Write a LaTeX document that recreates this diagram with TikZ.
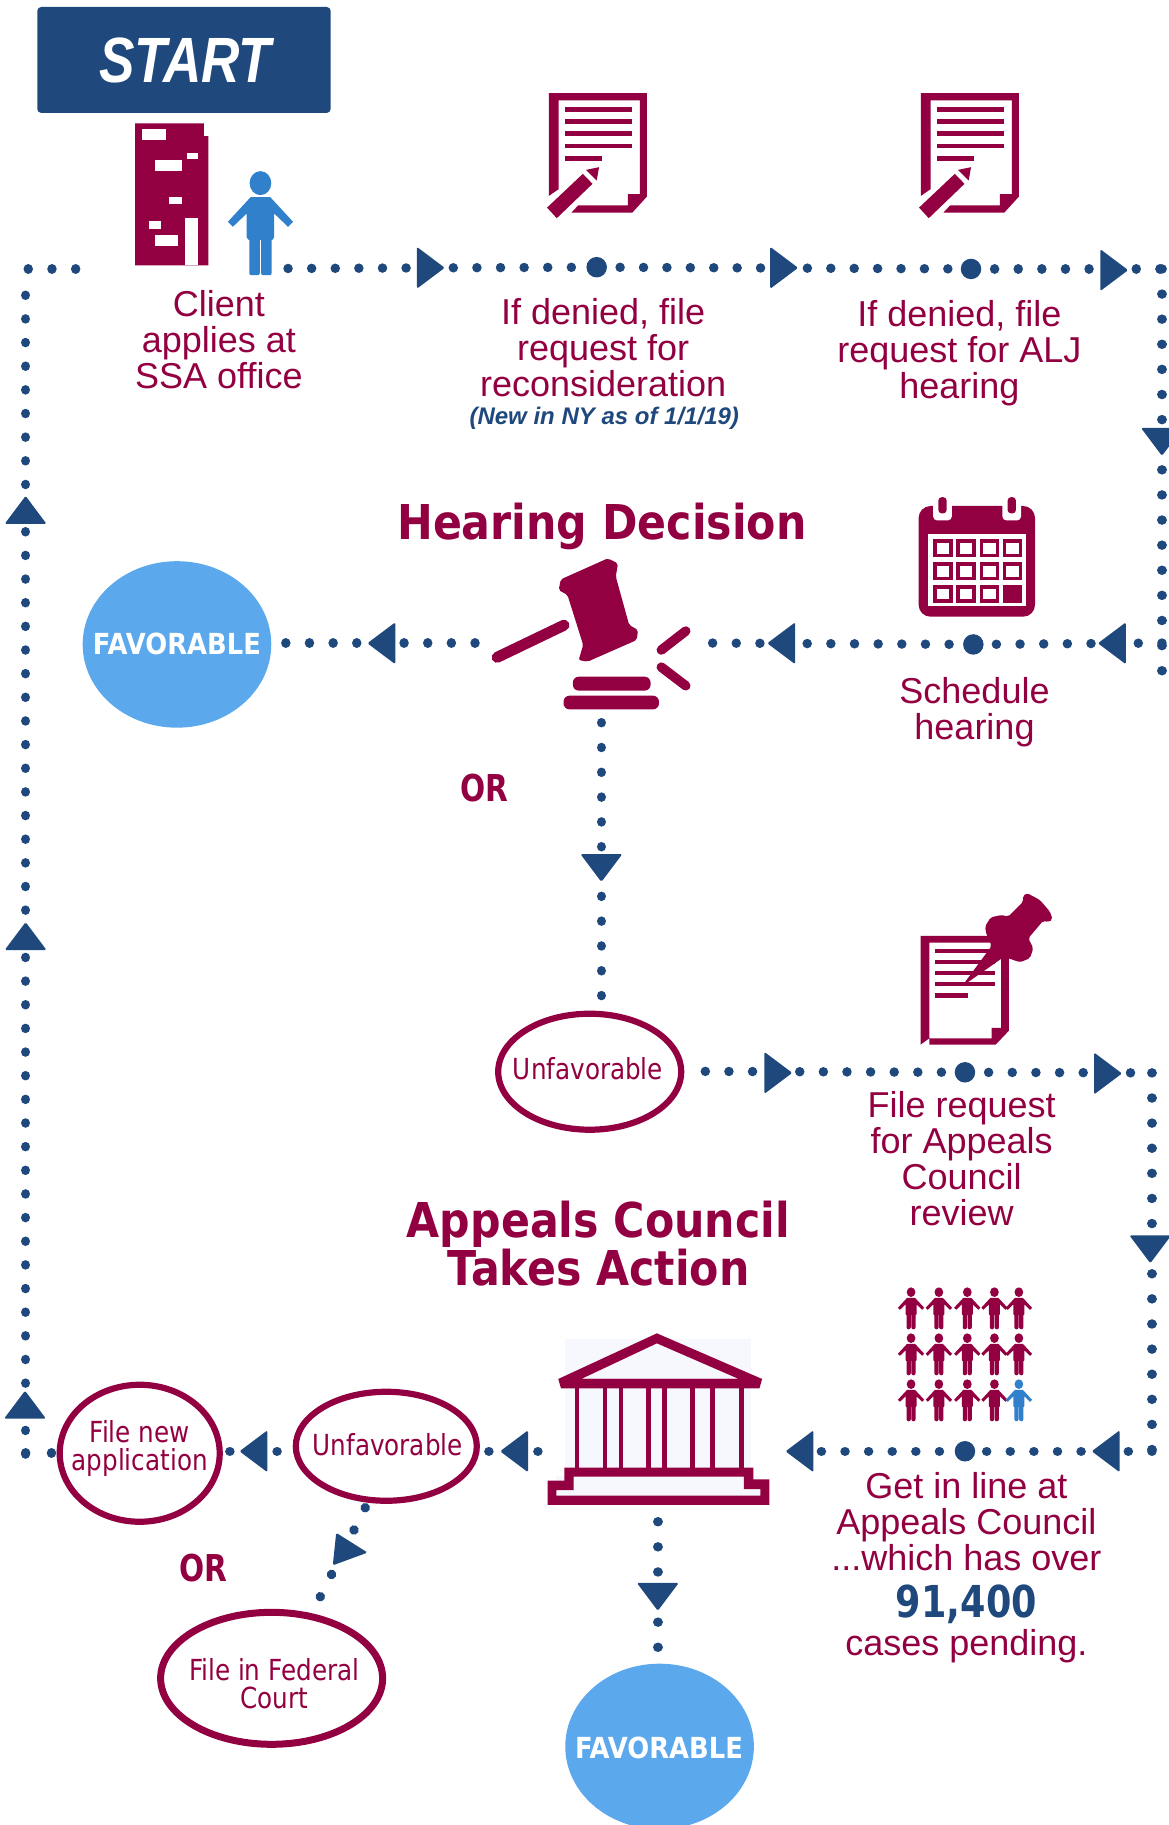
\documentclass[tikz,border=0pt]{standalone}
\usepackage{fontspec}
\setmainfont{Liberation Sans}
\newfontfamily\tahfont{DejaVu Sans}
\usetikzlibrary{shapes.geometric}
\definecolor{mar}{HTML}{930041}
\definecolor{nav}{HTML}{1F497D}
\definecolor{sky}{HTML}{5BA8EC}
\definecolor{pblue}{HTML}{3080CC}
\definecolor{courtbg}{HTML}{F7F8FD}
\tikzset{
  pics/dirtip/.style={code={\fill[nav,rounded corners=1.5pt] (-12,-18)--(12,0)--(-12,18)--cycle;}},
  pics/personicon/.style={code={
    \fill[#1] (0,10.3) ellipse [x radius=9.3,y radius=10.3];
    \fill[#1] (-8.4,22.3)--(8.4,22.3)--(28,43.5)--(23.7,47.8)--(11.8,36.4)--(11.8,57)--(9.9,59.3)--(-9.9,59.3)--(-11.8,57)--(-11.8,36.4)--(-23.7,47.8)--(-28,43.5)--cycle;
    \fill[#1,rounded corners=2pt] (-9.6,55)--(-0.6,55)--(-0.6,89.4)--(-9.6,89.4)--cycle;
    \fill[#1,rounded corners=2pt] (0.6,55)--(9.6,55)--(9.6,89.4)--(0.6,89.4)--cycle;
  }},
  pics/docicon/.style={code={
    \fill[mar] (0,0)--(84,0)--(84,89)--(71.6,102.6)--(19.3,102.6)--(25.2,96.3)--(67.7,96.3)--(67.7,86.8)--(78,86.8)--(78,6.3)--(8.3,6.3)--(8.3,82.5)--(0,88.2)--cycle;
    \foreach \yy in {14,24.4,34.4,45.3} \fill[mar] (14.2,\yy-2)rectangle(71.3,\yy+2);
    \fill[mar] (14.2,53.9)rectangle(45.3,57.9);
    \fill[mar] (-1.6,98.3)--(29.1,69.3)--(37.4,77.9)--(6.7,107.4)--cycle;
    \fill[mar] (31.9,65.9)--(43,63.6)--(41,75)--cycle;
  }},
  dotrow/.style={draw=nav,line width=9.5pt,line cap=round,dash pattern=on 0.01pt off #1},
  bigdot/.style={circle,fill=nav,minimum size=20.5pt,inner sep=0pt},
  body/.style={text=mar,align=center,inner sep=0pt,font=\fontsize{36}{36}\selectfont},
  headline/.style={text=mar,align=center,inner sep=0pt,transform shape,xscale=.89,font=\tahfont\bfseries\fontsize{48}{48}\selectfont},
  ortext/.style={text=mar,inner sep=0pt,transform shape,xscale=.8,font=\tahfont\bfseries\fontsize{37}{37}\selectfont},
  oval/.style={ellipse,draw=mar,line width=6.2pt,inner sep=0pt},
  ovaltext/.style={text=mar,align=center,inner sep=0pt,transform shape,xscale=.85,font=\tahfont\fontsize{29}{28}\selectfont},
  favoval/.style={ellipse,fill=sky,inner sep=0pt},
  favtext/.style={text=white,inner sep=0pt,transform shape,xscale=.89,font=\tahfont\bfseries\fontsize{29}{29}\selectfont},
}
\begin{document}
\begin{tikzpicture}[x=1.1643pt,y=-1.1643pt]
\useasboundingbox (0,0) rectangle (1004,1567.5);
\clip (0,0) rectangle (1004,1567.5);

% START
\node[fill=nav,rounded corners=4pt,minimum width=293.4pt,minimum height=106pt,inner sep=0pt] (startbox) at (158,51.5) {};
\node[text=white,inner sep=0pt,transform shape,xscale=.83,font=\bfseries\itshape\fontsize{64}{64}\selectfont] (starttext) at (159,52) {START};

% office building
\fill[mar] (116,106)--(175,106)--(175,117)--(179,117)--(179,228)--(116,228)--cycle;
\foreach \xa/\ya/\xb/\yb in {122/111/143/120,161/131.5/170/136.5,133/137.5/156/147,145/169/156/175.6,128/189.4/138/197,133/202/153/211,159/187/170/228}
  \fill[white] (\xa,\ya) rectangle (\xb,\yb);
\path (223.7,147) pic {personicon=pblue};

% document icons
\path (471.5,80) pic {docicon};
\path (791,80) pic {docicon};

% calendar
\fill[mar,rounded corners=12pt] (789,434.6) rectangle (889,529.7);
\foreach \cx in {809.5,869}{
  \fill[white,rounded corners=4pt] (\cx-8,429) rectangle (\cx+8,447);
  \fill[mar,rounded corners=3.5pt] (\cx-3.6,427) rectangle (\cx+3.6,441);
}
\fill[white] (797.3,458.7) rectangle (881,520.5);
\foreach \rr in {0,1,2} \foreach \cc in {0,1,2,3}{
  \fill[mar] ({801.5+\cc*19.9},{463.3+\rr*19.6}) rectangle ({818.5+\cc*19.9},{478.8+\rr*19.6});
  \ifnum\rr\cc=23\else
  \fill[white] ({804.7+\cc*19.9},{466.5+\rr*19.6}) rectangle ({815.3+\cc*19.9},{475.6+\rr*19.6});
  \fi
}

% gavel
\fill[mar,rounded corners=2pt] (522,479.6)--(530.8,483.9)--(528.9,495.3)--(540.4,536.8)--(548,541.1)--(546.9,549.7)--(504.7,568.3)--(497,566.9)--(500.9,554)--(487.4,511)--(479.8,506.8)--(481.7,497.6)--cycle;
\draw[mar,line width=11pt,line cap=round] (427,564.6)--(484.4,537);
\draw[mar,line width=9.5pt,line cap=round] (568,558.3)--(589,542);
\draw[mar,line width=9.5pt,line cap=round] (568,573)--(589,589);
\fill[mar,rounded corners=6pt] (492,581.2) rectangle (558.8,593.2);
\fill[mar,rounded corners=6pt] (484,597.5) rectangle (566,609.3);

% pinned document
\fill[mar] (790.7,803.9)--(866.6,803.9)--(866.6,885.2)--(855.2,897.2)--(798.2,897.2)--(798.2,891.8)--(851.7,891.8)--(851.7,882.9)--(859.8,882.9)--(859.8,809.6)--(798.2,809.6)--(798.2,891.8)--(790.7,897.2)--cycle;
\foreach \yy in {816.8,826.5,835.4,845.4} \fill[mar] (803.3,\yy-1.8) rectangle (854.6,\yy+1.8);
\fill[mar] (803.3,853.3) rectangle (831.7,856.9);
\fill[mar,rounded corners=2pt] (826,847.4)--(851.7,812.5)--(847.4,803)--(846,795.9)--(850.9,787.9)--(860.3,785.9)--(866,787.3)--(878.9,774.4)--(878.4,769.5)--(882.3,767.2)--(893.2,773)--(901.8,783)--(904.1,789.6)--(900.4,792.1)--(896.1,790.7)--(883.2,805.9)--(887.5,814.5)--(884.6,823)--(876.1,826.5)--(866,823)--(861.8,822.2)--cycle;

% people
\foreach \ty in {1105.7,1145.2}\foreach \px in {782.5,806.4,830.8,854.1,875.1}
  \path (\px,\ty) pic[scale=.403] {personicon=mar};
\foreach \px in {782.5,806.4,830.8,854.1}
  \path (\px,1184.7) pic[scale=.403] {personicon=mar};
\path (875.1,1184.7) pic[scale=.403] {personicon=pblue};

% courthouse
\fill[courtbg] (485.4,1150) rectangle (645,1262);
\fill[courtbg] (477.8,1268) rectangle (653,1285);
\fill[mar,even odd rule] (564.2,1145.2)--(654.6,1184.4)--(479.5,1184.4)--cycle (564.2,1153.8)--(634.6,1184.4)--(499.2,1184.4)--cycle;
\fill[mar] (479.5,1184.4)--(654.6,1184.4)--(652.3,1192.4)--(481.8,1192.4)--cycle;
\foreach \cx in {495.6,519.6,533.4,557.3,571.1,595.1,612.2,636.5}
  \fill[mar] (\cx-2.1,1192) rectangle (\cx+2.1,1261);
\fill[mar,even odd rule] (484.7,1260.6)--(647.1,1260.6)--(647.1,1270.6)--(660.9,1270.6)--(660.9,1292.6)--(470.3,1292.6)--(470.3,1271.7)--(484.7,1271.7)--cycle
  (492.6,1268.3)--(638.9,1268.3)--(638.9,1278.9)--(653,1278.9)--(653,1284.6)--(477.8,1284.6)--(477.8,1279.8)--(492.6,1279.8)--cycle;

% ovals
\node[favoval,minimum width=188.6pt,minimum height=166.5pt] (fav1) at (152,553.5) {};
\node[favtext] (fav1t) at (152,553.5) {FAVORABLE};
\node[favoval,minimum width=188.6pt,minimum height=165.5pt] (fav2) at (566.5,1500) {};
\node[favtext] (fav2t) at (566,1501) {FAVORABLE};
\node[oval,minimum width=183pt,minimum height=116pt] (unf1) at (506.5,920.5) {};
\node[ovaltext] (unf1t) at (505,918) {Unfavorable};
\node[oval,minimum width=181pt,minimum height=109pt] (unf2) at (331.8,1242.2) {};
\node[ovaltext] (unf2t) at (333,1241) {Unfavorable};
\node[oval,minimum width=160pt,minimum height=137pt] (newapp) at (120,1248.2) {};
\node[ovaltext] (newappt) at (120,1244) {File new\\application};
\node[oval,line width=7pt,minimum width=222pt,minimum height=132pt] (court) at (233.3,1441.5) {};
\node[ovaltext] (courtt) at (235.5,1446) {File in Federal\\Court};

% named ends and big dots
\coordinate (a0) at (65,231);
\coordinate (a1) at (24,231);
\coordinate (b0) at (22,253.6);
\coordinate (b1) at (22,1269);
\coordinate (e0) at (247.4,230.6);
\node[bigdot] (d1) at (512.5,229.5) {};
\node[bigdot] (d2) at (834,231) {};
\coordinate (c1) at (998,231);
\coordinate (c2) at (998,576.5);
\coordinate (g0) at (998,552.3);
\node[bigdot] (d3) at (836,553.5) {};
\coordinate (g1) at (611,552.3);
\coordinate (h0) at (408,552.3);
\coordinate (h1) at (245.5,552.3);
\coordinate (k0) at (516.5,620.7);
\coordinate (k1) at (516.5,855.5);
\coordinate (m0) at (605.8,920.2);
\node[bigdot] (d4) at (828.8,921) {};
\coordinate (m1) at (989.4,921.5);
\coordinate (m2) at (989.4,1246.5);
\node[bigdot] (d5) at (828.8,1246.5) {};
\coordinate (n1) at (665.1,1246.5);
\coordinate (p0) at (462,1246.5);
\coordinate (p1) at (419.7,1246.5);
\coordinate (q0) at (238,1246.5);
\coordinate (q1) at (197.4,1246.5);
\coordinate (r0) at (44.2,1248);
\coordinate (r1) at (22,1248);
\coordinate (s0) at (565,1307);
\coordinate (s1) at (565,1415.5);
\coordinate (v0) at (313.7,1295);
\coordinate (v1) at (274.9,1371.8);

% dotted connectors
\draw[dotrow=23.7pt] (a0)--(a1);
\draw[dotrow=23.64pt] (b0)--(b1);
\draw[dotrow=23.6pt] (e0)--(d1.center);
\draw[dotrow=23.4pt] (d1.center)--(d2.center);
\draw[dotrow=23.6pt] (d2.center)--(c1);
\draw[dotrow=25.1pt] (c1)--(c2);
\draw[dotrow=23.64pt] (g0)--(d3.center)--(g1);
\draw[dotrow=23.64pt] (h0)--(h1);
\draw[dotrow=24.8pt] (k0)--(k1);
\draw[dotrow=23.6pt] (m0)--(d4.center);
\draw[dotrow=23.64pt] (d4.center)--(m1);
\draw[dotrow=25.1pt] (m1)--(m2);
\draw[dotrow=23.6pt] (m2)--(d5.center)--(n1);
\draw[dotrow=24.5pt] (p0)--(p1);
\draw[dotrow=23.6pt] (q0)--(q1);
\draw[dotrow=25.8pt] (r0)--(r1);
\draw[dotrow=25.1pt] (s0)--(s1);
\draw[dotrow=24.9pt] (v0)--(v1);

% arrow tips
\foreach \tx/\ty/\ang in {370/230/0,673.5/230/0,957/232/0,998/379.5/270,671/552.5/180,955/552.5/180,327.5/552.5/180,516.5/745.5/270,668.5/921.5/0,951.7/922/0,988/1073/270,686.7/1246.5/180,949.7/1246.5/180,441.5/1246.5/180,217.7/1246.5/180,565/1371.5/270,22/438/90,22/804/90,21.5/1206.5/90}
  \path (\tx,\ty) pic[rotate=\ang] {dirtip};
\path (301.5,1332) pic[rotate=-6,xscale=1.19,yscale=.78] {dirtip};

% texts
\node[body] (t1) at (188,291.5) {Client\\applies at\\SSA office};
\node[body] (t2) at (518,299) {If denied, file\\request for\\reconsideration};
\node[text=nav,inner sep=0pt,font=\bfseries\itshape\fontsize{24}{24}\selectfont] (t2b) at (519,359) {(New in NY as of 1/1/19)};
\node[body] (t3) at (824,303) {If denied, file\\request for ALJ\\hearing};
\node[body] (t4) at (837,612) {Schedule\\hearing};
\node[body] (t5) at (826,995) {File request\\for Appeals\\Council\\review};
\node[body] (t6) at (830,1307) {Get in line at\\Appeals Council\\...which has over};
\node[text=nav,inner sep=0pt,transform shape,xscale=.83,font=\tahfont\bfseries\fontsize{44}{44}\selectfont] (t7) at (830,1378) {91,400};
\node[body] (t8) at (830,1414) {cases pending.};
\node[headline] (h1t) at (517,452.5) {Hearing Decision};
\node[headline] (h2t) at (514,1068) {Appeals Council\\Takes Action};
\node[ortext] (or1) at (416,677) {OR};
\node[ortext] (or2) at (175,1347) {OR};
\end{tikzpicture}
\end{document}
